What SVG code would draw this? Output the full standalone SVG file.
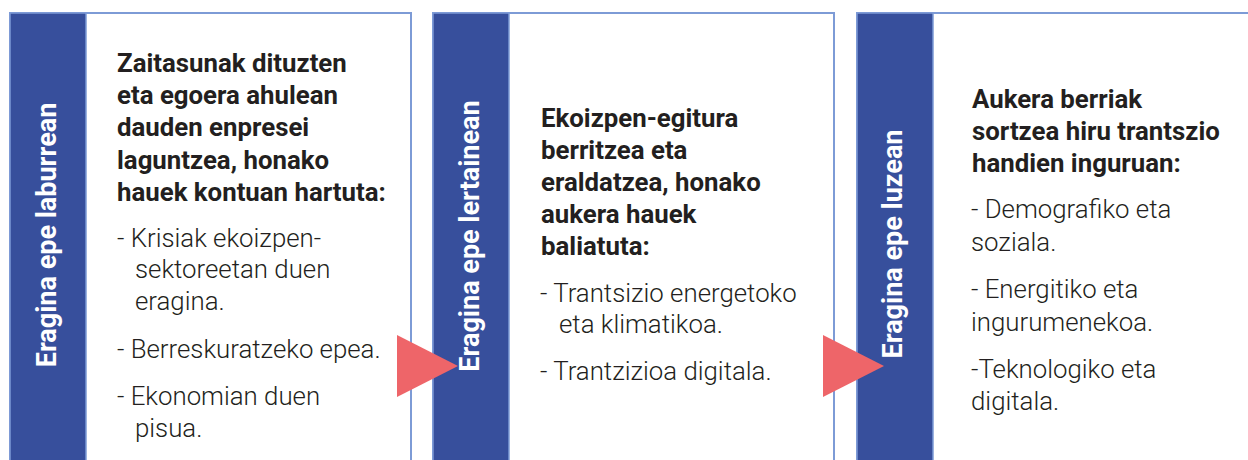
<svg xmlns="http://www.w3.org/2000/svg" width="1248" height="460" viewBox="0 0 1248 460">
<style>
.box{fill:#fff;stroke:#7d9bd6;stroke-width:2}
.bar{fill:#374f9c;stroke:#7d9bd6;stroke-width:1.5}
.lbl{font-family:Roboto,"Liberation Sans",sans-serif;font-weight:700;font-size:27px;fill:#fff;text-anchor:middle;dominant-baseline:central}
.hd{font-family:Roboto,"Liberation Sans",sans-serif;font-weight:700;font-size:25.8px;fill:#231f20}
.tx{font-family:Roboto,"Liberation Sans",sans-serif;font-weight:300;font-size:25.8px;fill:#231f20}
.arr{fill:#ee6569}
</style>
<rect width="1248" height="460" fill="#fff"/>
<g id="panel1">
<rect class="box" x="10" y="13" width="401" height="470"/>
<rect class="bar" x="10" y="13" width="76" height="470"/>
<text class="lbl" transform="translate(47,235) rotate(-90)">Eragina epe laburrean</text>
<text class="hd"><tspan x="117" y="72">Zaitasunak dituzten</tspan><tspan x="117" y="104">eta egoera ahulean</tspan><tspan x="117" y="136">dauden enpresei</tspan><tspan x="117" y="169">laguntzea, honako</tspan><tspan x="117" y="201">hauek kontuan hartuta:</tspan></text>
<text class="tx"><tspan x="117" y="247">- Krisiak ekoizpen-</tspan><tspan x="135" y="278">sektoreetan duen</tspan><tspan x="135" y="310">eragina.</tspan><tspan x="117" y="358">- Berreskuratzeko epea.</tspan><tspan x="117" y="405">- Ekonomian duen</tspan><tspan x="135" y="437">pisua.</tspan></text>
</g>
<g id="panel2">
<rect class="box" x="433" y="13" width="401" height="470"/>
<rect class="bar" x="433" y="13" width="76" height="470"/>
<text class="lbl" transform="translate(470,236) rotate(-90)">Eragina epe lertainean</text>
<text class="hd"><tspan x="541" y="127">Ekoizpen-egitura</tspan><tspan x="541" y="159">berritzea eta</tspan><tspan x="541" y="191">eraldatzea, honako</tspan><tspan x="541" y="223">aukera hauek</tspan><tspan x="541" y="255">baliatuta:</tspan></text>
<text class="tx"><tspan x="540" y="302">- Trantsizio energetoko</tspan><tspan x="559" y="333">eta klimatikoa.</tspan><tspan x="540" y="380">- Trantzizioa digitala.</tspan></text>
</g>
<g id="panel3">
<rect class="box" x="857" y="13" width="420" height="470"/>
<rect class="bar" x="857" y="13" width="76" height="470"/>
<text class="lbl" transform="translate(893,244) rotate(-90)">Eragina epe luzean</text>
<text class="hd"><tspan x="972" y="108">Aukera berriak</tspan><tspan x="972" y="140">sortzea hiru trantszio</tspan><tspan x="972" y="172">handien inguruan:</tspan></text>
<text class="tx"><tspan x="971" y="218">- Demografiko eta</tspan><tspan x="971" y="251">soziala.</tspan><tspan x="971" y="298">- Energitiko eta</tspan><tspan x="971" y="331">ingurumenekoa.</tspan><tspan x="971" y="378">-Teknologiko eta</tspan><tspan x="971" y="410">digitala.</tspan></text>
</g>
<g id="connectors">
<polygon class="arr" points="397,335 397,397 458,366"/>
<polygon class="arr" points="823,335 823,397 884,366"/>
</g>
</svg>
